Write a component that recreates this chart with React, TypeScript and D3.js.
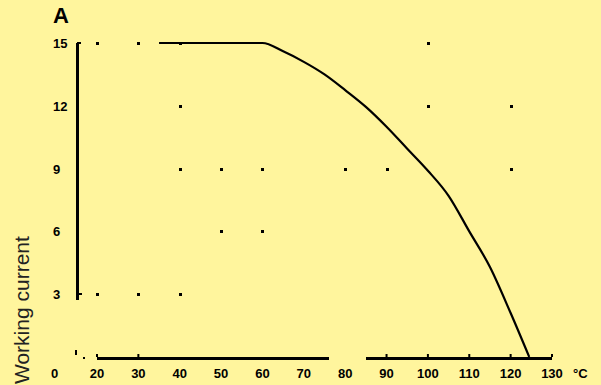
import React from "react";
import * as d3 from "d3";

const tempTicks = [20, 30, 40, 50, 60, 70, 80, 90, 100, 110, 120, 130];
const currentTicks = [3, 6, 9, 12, 15];
const curveTemps = [35, 60, 65, 70, 75, 80, 85, 90, 95, 100, 105, 110, 115, 120, 124.5];
const curveCurrents = [15, 15, 14.6, 14.1, 13.5, 12.75, 11.95, 11.0, 9.95, 8.9, 7.7, 6.0, 4.3, 2.1, 0];
const gridDotTemps = [20, 30, 40, 100, 40, 100, 120, 40, 50, 60, 80, 90, 120, 50, 60, 20, 30, 40];
const gridDotCurrents = [15, 15, 15, 15, 12, 12, 12, 9, 9, 9, 9, 9, 9, 6, 6, 3, 3, 3];
const xAxisSegments = [[20, 76], [85, 130]];
const xAxisMarks = [20, 30, 90, 100, 110, 120, 130];
const yAxisRange = [2.7, 15];

const W = 601;
const H = 385;
const BG = "#FFF59D";

export default function App() {
  const x = d3.scaleLinear().domain([20, 130]).range([97, 552]);
  const y = d3.scaleLinear().domain([0, 15]).range([357, 43]);
  const line = d3
    .line<number>()
    .x((_, i) => x(curveTemps[i]))
    .y((_, i) => y(curveCurrents[i]))
    .curve(d3.curveMonotoneX);
  const font = "'Liberation Sans', Arial, sans-serif";
  return (
    <div style={{ position: "fixed", left: 0, top: 0, width: W, height: H, background: BG }}>
      <svg width={W} height={H} style={{ display: "block" }}>
        <rect width={W} height={H} fill={BG} />
        {/* grid dots */}
        {gridDotTemps.map((t, i) => (
          <rect
            key={"g" + i}
            x={x(t) - 1}
            y={y(gridDotCurrents[i]) - 1}
            width={3}
            height={3}
            fill="#000"
            shapeRendering="crispEdges"
          />
        ))}
        {/* y axis */}
        <line
          x1={77}
          x2={77}
          y1={y(yAxisRange[1])}
          y2={y(yAxisRange[0])}
          stroke="#000"
          strokeWidth={3}
          shapeRendering="crispEdges"
        />
        <line x1={77} x2={81} y1={y(15)} y2={y(15)} stroke="#000" strokeWidth={2} shapeRendering="crispEdges" />
        <line x1={77} x2={82} y1={y(3)} y2={y(3)} stroke="#000" strokeWidth={2} shapeRendering="crispEdges" />
        <rect x={75} y={350} width={2} height={5} fill="#000" />
        <rect x={83} y={357} width={2} height={2} fill="#000" />
        {/* x axis */}
        {xAxisSegments.map((s, i) => (
          <line
            key={"xa" + i}
            x1={x(s[0])}
            x2={x(s[1])}
            y1={358}
            y2={358}
            stroke="#000"
            strokeWidth={3}
            shapeRendering="crispEdges"
          />
        ))}
        {xAxisMarks.map((t, i) => (
          <rect key={"xm" + i} x={x(t) - 1} y={354} width={2} height={3} fill="#000" />
        ))}
        {/* curve */}
        <path
          d={line(curveTemps) || ""}
          fill="none"
          stroke="#000"
          strokeWidth={2.2}
        />
        {/* labels */}
        <text x={53} y={23} fontFamily={font} fontWeight="bold" fontSize={22} fill="#000">
          A
        </text>
        {currentTicks.map((c) => (
          <text
            key={"yl" + c}
            x={53}
            y={y(c) + 5}
            fontFamily={font}
            fontWeight="bold"
            fontSize={13}
            fill="#000"
          >
            {c}
          </text>
        ))}
        <text x={51} y={378} fontFamily={font} fontWeight="bold" fontSize={13} fill="#000">
          0
        </text>
        {tempTicks.map((t) => (
          <text
            key={"xl" + t}
            x={x(t)}
            y={378}
            textAnchor="middle"
            fontFamily={font}
            fontWeight="bold"
            fontSize={13}
            fill="#000"
          >
            {t}
          </text>
        ))}
        <text x={573} y={378} fontFamily={font} fontWeight="bold" fontSize={13} fill="#000">
          °C
        </text>
        <text
          transform="translate(29,384) rotate(-90)"
          fontFamily={font}
          fontSize={21}
          fill="#222"
        >
          Working current
        </text>
      </svg>
    </div>
  );
}
